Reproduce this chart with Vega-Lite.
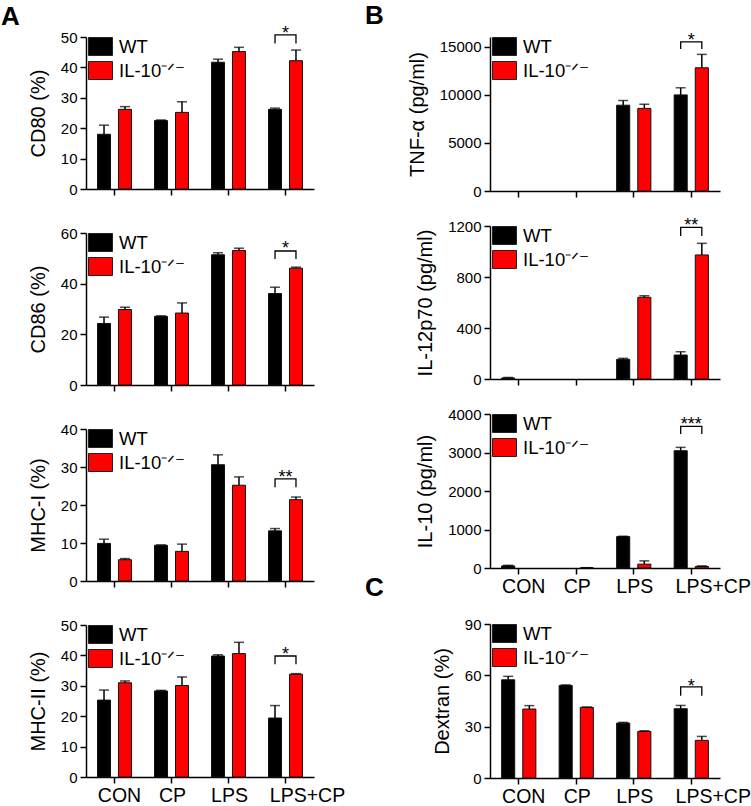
{
  "$schema": "https://vega.github.io/schema/vega-lite/v6.json",
  "padding": {"left": 1, "top": 3, "right": 2, "bottom": 1},
  "background": "white",
  "config": {
    "view": {"stroke": null},
    "font": "Liberation Sans",
    "axis": {"domainColor": "#000", "domainWidth": 1.5, "tickColor": "#000", "tickWidth": 1.5, "tickSize": 6, "labelFont": "Liberation Sans", "labelFontSize": 15, "labelColor": "#000", "labelPadding": 3, "titleFont": "Liberation Sans", "titleFontSize": 20, "titleFontWeight": "normal", "titleColor": "#000", "grid": false},
    "axisX": {"labelFontSize": 19.5, "labelAngle": 0, "title": null, "labelOffset": {"condition": [{"test": "datum.value === 'LPS+CP'", "value": 22}, {"test": "datum.value === 'CON'", "value": 5}], "value": 1}},
    "axisY": {"titlePadding": 12},
    "legend": {"orient": "none", "legendX": 4, "legendY": -1, "title": null, "padding": 0, "symbolType": "M-1.2,-0.9H1.2V0.9H-1.2Z", "symbolSize": 400, "symbolStrokeColor": "#222", "symbolStrokeWidth": 1, "labelFont": "Liberation Sans", "labelFontSize": 18.5, "labelColor": "#000", "labelOffset": 8, "rowPadding": 1},
    "title": {"font": "Liberation Sans", "fontSize": 26, "fontWeight": "bold", "color": "#000", "anchor": "start", "frame": "group", "offset": 0}
  },
  "datasets": {
    "bars": [
      {"p": "CD80", "c": "CON", "g": "WT", "m": 18.0, "h": 21.0},
      {"p": "CD80", "c": "CON", "g": "IL-10⁻ᐟ⁻", "m": 26.2, "h": 27.1},
      {"p": "CD80", "c": "CP", "g": "WT", "m": 22.5, "h": 22.7},
      {"p": "CD80", "c": "CP", "g": "IL-10⁻ᐟ⁻", "m": 25.2, "h": 28.7},
      {"p": "CD80", "c": "LPS", "g": "WT", "m": 41.7, "h": 42.7},
      {"p": "CD80", "c": "LPS", "g": "IL-10⁻ᐟ⁻", "m": 45.2, "h": 46.6},
      {"p": "CD80", "c": "LPS+CP", "g": "WT", "m": 26.2, "h": 26.6},
      {"p": "CD80", "c": "LPS+CP", "g": "IL-10⁻ᐟ⁻", "m": 42.2, "h": 45.7},
      {"p": "CD86", "c": "CON", "g": "WT", "m": 24.3, "h": 26.8},
      {"p": "CD86", "c": "CON", "g": "IL-10⁻ᐟ⁻", "m": 29.8, "h": 30.7},
      {"p": "CD86", "c": "CP", "g": "WT", "m": 27.1, "h": 27.3},
      {"p": "CD86", "c": "CP", "g": "IL-10⁻ᐟ⁻", "m": 28.4, "h": 32.4},
      {"p": "CD86", "c": "LPS", "g": "WT", "m": 51.4, "h": 52.2},
      {"p": "CD86", "c": "LPS", "g": "IL-10⁻ᐟ⁻", "m": 53.1, "h": 54.0},
      {"p": "CD86", "c": "LPS+CP", "g": "WT", "m": 36.1, "h": 38.6},
      {"p": "CD86", "c": "LPS+CP", "g": "IL-10⁻ᐟ⁻", "m": 46.1, "h": 46.5},
      {"p": "MHCI", "c": "CON", "g": "WT", "m": 9.9, "h": 11.0},
      {"p": "MHCI", "c": "CON", "g": "IL-10⁻ᐟ⁻", "m": 5.6, "h": 5.9},
      {"p": "MHCI", "c": "CP", "g": "WT", "m": 9.4, "h": 9.5},
      {"p": "MHCI", "c": "CP", "g": "IL-10⁻ᐟ⁻", "m": 7.8, "h": 9.7},
      {"p": "MHCI", "c": "LPS", "g": "WT", "m": 30.6, "h": 33.2},
      {"p": "MHCI", "c": "LPS", "g": "IL-10⁻ᐟ⁻", "m": 25.2, "h": 27.4},
      {"p": "MHCI", "c": "LPS+CP", "g": "WT", "m": 13.2, "h": 13.8},
      {"p": "MHCI", "c": "LPS+CP", "g": "IL-10⁻ᐟ⁻", "m": 21.4, "h": 22.1},
      {"p": "MHCII", "c": "CON", "g": "WT", "m": 25.3, "h": 28.6},
      {"p": "MHCII", "c": "CON", "g": "IL-10⁻ᐟ⁻", "m": 31.0, "h": 31.6},
      {"p": "MHCII", "c": "CP", "g": "WT", "m": 28.3, "h": 28.5},
      {"p": "MHCII", "c": "CP", "g": "IL-10⁻ᐟ⁻", "m": 30.1, "h": 32.9},
      {"p": "MHCII", "c": "LPS", "g": "WT", "m": 39.8, "h": 40.2},
      {"p": "MHCII", "c": "LPS", "g": "IL-10⁻ᐟ⁻", "m": 40.6, "h": 44.3},
      {"p": "MHCII", "c": "LPS+CP", "g": "WT", "m": 19.4, "h": 23.5},
      {"p": "MHCII", "c": "LPS+CP", "g": "IL-10⁻ᐟ⁻", "m": 33.8, "h": 34.0},
      {"p": "TNF", "c": "LPS", "g": "WT", "m": 8914, "h": 9400},
      {"p": "TNF", "c": "LPS", "g": "IL-10⁻ᐟ⁻", "m": 8584, "h": 9012},
      {"p": "TNF", "c": "LPS+CP", "g": "WT", "m": 9984, "h": 10723},
      {"p": "TNF", "c": "LPS+CP", "g": "IL-10⁻ᐟ⁻", "m": 12803, "h": 14193},
      {"p": "IL12", "c": "CON", "g": "WT", "m": 8, "h": 12},
      {"p": "IL12", "c": "LPS", "g": "WT", "m": 154, "h": 162},
      {"p": "IL12", "c": "LPS", "g": "IL-10⁻ᐟ⁻", "m": 641, "h": 653},
      {"p": "IL12", "c": "LPS+CP", "g": "WT", "m": 188, "h": 214},
      {"p": "IL12", "c": "LPS+CP", "g": "IL-10⁻ᐟ⁻", "m": 973, "h": 1064},
      {"p": "IL10", "c": "CON", "g": "WT", "m": 55, "h": 70},
      {"p": "IL10", "c": "CP", "g": "IL-10⁻ᐟ⁻", "m": 5, "h": 8},
      {"p": "IL10", "c": "LPS", "g": "WT", "m": 815, "h": 825},
      {"p": "IL10", "c": "LPS", "g": "IL-10⁻ᐟ⁻", "m": 100, "h": 185},
      {"p": "IL10", "c": "LPS+CP", "g": "WT", "m": 3047, "h": 3133},
      {"p": "IL10", "c": "LPS+CP", "g": "IL-10⁻ᐟ⁻", "m": 40, "h": 55},
      {"p": "DEX", "c": "CON", "g": "WT", "m": 57.4, "h": 59.4},
      {"p": "DEX", "c": "CON", "g": "IL-10⁻ᐟ⁻", "m": 40.3, "h": 42.3},
      {"p": "DEX", "c": "CP", "g": "WT", "m": 54.1, "h": 54.4},
      {"p": "DEX", "c": "CP", "g": "IL-10⁻ᐟ⁻", "m": 41.3, "h": 41.5},
      {"p": "DEX", "c": "LPS", "g": "WT", "m": 32.1, "h": 32.5},
      {"p": "DEX", "c": "LPS", "g": "IL-10⁻ᐟ⁻", "m": 27.2, "h": 27.6},
      {"p": "DEX", "c": "LPS+CP", "g": "WT", "m": 40.5, "h": 42.4},
      {"p": "DEX", "c": "LPS+CP", "g": "IL-10⁻ᐟ⁻", "m": 22.0, "h": 24.3}
    ],
    "brackets": [
      {"p": "CD80", "c": "LPS+CP", "g": "WT", "y": 47.9, "o": 1},
      {"p": "CD80", "c": "LPS+CP", "g": "WT", "y": 50.7, "o": 2},
      {"p": "CD80", "c": "LPS+CP", "g": "IL-10⁻ᐟ⁻", "y": 50.7, "o": 3},
      {"p": "CD80", "c": "LPS+CP", "g": "IL-10⁻ᐟ⁻", "y": 47.9, "o": 4},
      {"p": "CD86", "c": "LPS+CP", "g": "WT", "y": 49.7, "o": 1},
      {"p": "CD86", "c": "LPS+CP", "g": "WT", "y": 52.9, "o": 2},
      {"p": "CD86", "c": "LPS+CP", "g": "IL-10⁻ᐟ⁻", "y": 52.9, "o": 3},
      {"p": "CD86", "c": "LPS+CP", "g": "IL-10⁻ᐟ⁻", "y": 49.7, "o": 4},
      {"p": "MHCI", "c": "LPS+CP", "g": "WT", "y": 24.7, "o": 1},
      {"p": "MHCI", "c": "LPS+CP", "g": "WT", "y": 26.9, "o": 2},
      {"p": "MHCI", "c": "LPS+CP", "g": "IL-10⁻ᐟ⁻", "y": 26.9, "o": 3},
      {"p": "MHCI", "c": "LPS+CP", "g": "IL-10⁻ᐟ⁻", "y": 24.7, "o": 4},
      {"p": "MHCII", "c": "LPS+CP", "g": "WT", "y": 37.1, "o": 1},
      {"p": "MHCII", "c": "LPS+CP", "g": "WT", "y": 39.8, "o": 2},
      {"p": "MHCII", "c": "LPS+CP", "g": "IL-10⁻ᐟ⁻", "y": 39.8, "o": 3},
      {"p": "MHCII", "c": "LPS+CP", "g": "IL-10⁻ᐟ⁻", "y": 37.1, "o": 4},
      {"p": "TNF", "c": "LPS+CP", "g": "WT", "y": 14747, "o": 1},
      {"p": "TNF", "c": "LPS+CP", "g": "WT", "y": 15486, "o": 2},
      {"p": "TNF", "c": "LPS+CP", "g": "IL-10⁻ᐟ⁻", "y": 15486, "o": 3},
      {"p": "TNF", "c": "LPS+CP", "g": "IL-10⁻ᐟ⁻", "y": 14747, "o": 4},
      {"p": "IL12", "c": "LPS+CP", "g": "WT", "y": 1122, "o": 1},
      {"p": "IL12", "c": "LPS+CP", "g": "WT", "y": 1190, "o": 2},
      {"p": "IL12", "c": "LPS+CP", "g": "IL-10⁻ᐟ⁻", "y": 1190, "o": 3},
      {"p": "IL12", "c": "LPS+CP", "g": "IL-10⁻ᐟ⁻", "y": 1122, "o": 4},
      {"p": "IL10", "c": "LPS+CP", "g": "WT", "y": 3480, "o": 1},
      {"p": "IL10", "c": "LPS+CP", "g": "WT", "y": 3678, "o": 2},
      {"p": "IL10", "c": "LPS+CP", "g": "IL-10⁻ᐟ⁻", "y": 3678, "o": 3},
      {"p": "IL10", "c": "LPS+CP", "g": "IL-10⁻ᐟ⁻", "y": 3480, "o": 4},
      {"p": "DEX", "c": "LPS+CP", "g": "WT", "y": 48.1, "o": 1},
      {"p": "DEX", "c": "LPS+CP", "g": "WT", "y": 53.2, "o": 2},
      {"p": "DEX", "c": "LPS+CP", "g": "IL-10⁻ᐟ⁻", "y": 53.2, "o": 3},
      {"p": "DEX", "c": "LPS+CP", "g": "IL-10⁻ᐟ⁻", "y": 48.1, "o": 4}
    ],
    "stars": [
      {"p": "CD80", "c": "LPS+CP", "t": "*", "y": 52.6},
      {"p": "CD86", "c": "LPS+CP", "t": "*", "y": 55.7},
      {"p": "MHCI", "c": "LPS+CP", "t": "**", "y": 28.4},
      {"p": "MHCII", "c": "LPS+CP", "t": "*", "y": 41.7},
      {"p": "TNF", "c": "LPS+CP", "t": "*", "y": 16090},
      {"p": "IL12", "c": "LPS+CP", "t": "**", "y": 1241},
      {"p": "IL10", "c": "LPS+CP", "t": "***", "y": 3850},
      {"p": "DEX", "c": "LPS+CP", "t": "*", "y": 56.3}
    ]
  },
  "hconcat": [
    {
      "vconcat": [
        {
          "width": 228, "height": 152,
          "title": {"text": "A", "dx": -85, "dy": 9},
          "layer": [
            {"data": {"name": "bars"}, "transform": [{"filter": "datum.p === 'CD80'"}], "mark": {"type": "bar", "stroke": "#111", "strokeWidth": 1},
             "encoding": {
               "x": {"field": "c", "type": "nominal", "scale": {"domain": ["CON", "CP", "LPS", "LPS+CP"], "paddingInner": 0, "paddingOuter": 0}, "axis": {"labels": false}},
               "xOffset": {"field": "g", "type": "nominal", "scale": {"domain": ["WT", "IL-10⁻ᐟ⁻"], "paddingInner": 0.38, "paddingOuter": 0.55}},
               "y": {"field": "m", "type": "quantitative", "scale": {"domain": [0, 50]}, "axis": {"values": [0, 10, 20, 30, 40, 50], "tickCount": 6, "title": "CD80 (%)"}},
               "color": {"field": "g", "type": "nominal", "scale": {"domain": ["WT", "IL-10⁻ᐟ⁻"], "range": ["#000000", "#ff0000"]}}}},
            {"data": {"name": "bars"}, "transform": [{"filter": "datum.p === 'CD80'"}], "mark": {"type": "rule", "color": "#000", "strokeWidth": 1.5},
             "encoding": {"x": {"field": "c", "type": "nominal"}, "xOffset": {"field": "g", "type": "nominal"}, "y": {"field": "m", "type": "quantitative"}, "y2": {"field": "h"}}},
            {"data": {"name": "bars"}, "transform": [{"filter": "datum.p === 'CD80'"}], "mark": {"type": "tick", "color": "#000", "thickness": 1.5, "size": 10, "orient": "horizontal"},
             "encoding": {"x": {"field": "c", "type": "nominal"}, "xOffset": {"field": "g", "type": "nominal"}, "y": {"field": "h", "type": "quantitative"}}},
            {"data": {"name": "brackets"}, "transform": [{"filter": "datum.p === 'CD80'"}], "mark": {"type": "line", "color": "#000", "strokeWidth": 1.3},
             "encoding": {"x": {"field": "c", "type": "nominal"}, "xOffset": {"field": "g", "type": "nominal"}, "y": {"field": "y", "type": "quantitative"}, "order": {"field": "o"}}},
            {"data": {"name": "stars"}, "transform": [{"filter": "datum.p === 'CD80'"}], "mark": {"type": "text", "fontSize": 18, "dy": 10, "baseline": "alphabetic", "color": "#000"},
             "encoding": {"x": {"field": "c", "type": "nominal"}, "y": {"field": "y", "type": "quantitative"}, "text": {"field": "t"}}}
          ]
        },
        {
          "width": 228, "height": 152,
          "layer": [
            {"data": {"name": "bars"}, "transform": [{"filter": "datum.p === 'CD86'"}], "mark": {"type": "bar", "stroke": "#111", "strokeWidth": 1},
             "encoding": {
               "x": {"field": "c", "type": "nominal", "scale": {"domain": ["CON", "CP", "LPS", "LPS+CP"], "paddingInner": 0, "paddingOuter": 0}, "axis": {"labels": false}},
               "xOffset": {"field": "g", "type": "nominal", "scale": {"domain": ["WT", "IL-10⁻ᐟ⁻"], "paddingInner": 0.38, "paddingOuter": 0.55}},
               "y": {"field": "m", "type": "quantitative", "scale": {"domain": [0, 60]}, "axis": {"values": [0, 20, 40, 60], "tickCount": 4, "title": "CD86 (%)"}},
               "color": {"field": "g", "type": "nominal", "scale": {"domain": ["WT", "IL-10⁻ᐟ⁻"], "range": ["#000000", "#ff0000"]}}}},
            {"data": {"name": "bars"}, "transform": [{"filter": "datum.p === 'CD86'"}], "mark": {"type": "rule", "color": "#000", "strokeWidth": 1.5},
             "encoding": {"x": {"field": "c", "type": "nominal"}, "xOffset": {"field": "g", "type": "nominal"}, "y": {"field": "m", "type": "quantitative"}, "y2": {"field": "h"}}},
            {"data": {"name": "bars"}, "transform": [{"filter": "datum.p === 'CD86'"}], "mark": {"type": "tick", "color": "#000", "thickness": 1.5, "size": 10, "orient": "horizontal"},
             "encoding": {"x": {"field": "c", "type": "nominal"}, "xOffset": {"field": "g", "type": "nominal"}, "y": {"field": "h", "type": "quantitative"}}},
            {"data": {"name": "brackets"}, "transform": [{"filter": "datum.p === 'CD86'"}], "mark": {"type": "line", "color": "#000", "strokeWidth": 1.3},
             "encoding": {"x": {"field": "c", "type": "nominal"}, "xOffset": {"field": "g", "type": "nominal"}, "y": {"field": "y", "type": "quantitative"}, "order": {"field": "o"}}},
            {"data": {"name": "stars"}, "transform": [{"filter": "datum.p === 'CD86'"}], "mark": {"type": "text", "fontSize": 18, "dy": 10, "baseline": "alphabetic", "color": "#000"},
             "encoding": {"x": {"field": "c", "type": "nominal"}, "y": {"field": "y", "type": "quantitative"}, "text": {"field": "t"}}}
          ]
        },
        {
          "width": 228, "height": 152,
          "layer": [
            {"data": {"name": "bars"}, "transform": [{"filter": "datum.p === 'MHCI'"}], "mark": {"type": "bar", "stroke": "#111", "strokeWidth": 1},
             "encoding": {
               "x": {"field": "c", "type": "nominal", "scale": {"domain": ["CON", "CP", "LPS", "LPS+CP"], "paddingInner": 0, "paddingOuter": 0}, "axis": {"labels": false}},
               "xOffset": {"field": "g", "type": "nominal", "scale": {"domain": ["WT", "IL-10⁻ᐟ⁻"], "paddingInner": 0.38, "paddingOuter": 0.55}},
               "y": {"field": "m", "type": "quantitative", "scale": {"domain": [0, 40]}, "axis": {"values": [0, 10, 20, 30, 40], "tickCount": 5, "title": "MHC-I (%)"}},
               "color": {"field": "g", "type": "nominal", "scale": {"domain": ["WT", "IL-10⁻ᐟ⁻"], "range": ["#000000", "#ff0000"]}}}},
            {"data": {"name": "bars"}, "transform": [{"filter": "datum.p === 'MHCI'"}], "mark": {"type": "rule", "color": "#000", "strokeWidth": 1.5},
             "encoding": {"x": {"field": "c", "type": "nominal"}, "xOffset": {"field": "g", "type": "nominal"}, "y": {"field": "m", "type": "quantitative"}, "y2": {"field": "h"}}},
            {"data": {"name": "bars"}, "transform": [{"filter": "datum.p === 'MHCI'"}], "mark": {"type": "tick", "color": "#000", "thickness": 1.5, "size": 10, "orient": "horizontal"},
             "encoding": {"x": {"field": "c", "type": "nominal"}, "xOffset": {"field": "g", "type": "nominal"}, "y": {"field": "h", "type": "quantitative"}}},
            {"data": {"name": "brackets"}, "transform": [{"filter": "datum.p === 'MHCI'"}], "mark": {"type": "line", "color": "#000", "strokeWidth": 1.3},
             "encoding": {"x": {"field": "c", "type": "nominal"}, "xOffset": {"field": "g", "type": "nominal"}, "y": {"field": "y", "type": "quantitative"}, "order": {"field": "o"}}},
            {"data": {"name": "stars"}, "transform": [{"filter": "datum.p === 'MHCI'"}], "mark": {"type": "text", "fontSize": 18, "dy": 10, "baseline": "alphabetic", "color": "#000"},
             "encoding": {"x": {"field": "c", "type": "nominal"}, "y": {"field": "y", "type": "quantitative"}, "text": {"field": "t"}}}
          ]
        },
        {
          "width": 228, "height": 152,
          "layer": [
            {"data": {"name": "bars"}, "transform": [{"filter": "datum.p === 'MHCII'"}], "mark": {"type": "bar", "stroke": "#111", "strokeWidth": 1},
             "encoding": {
               "x": {"field": "c", "type": "nominal", "scale": {"domain": ["CON", "CP", "LPS", "LPS+CP"], "paddingInner": 0, "paddingOuter": 0}, "axis": {"labels": true}},
               "xOffset": {"field": "g", "type": "nominal", "scale": {"domain": ["WT", "IL-10⁻ᐟ⁻"], "paddingInner": 0.38, "paddingOuter": 0.55}},
               "y": {"field": "m", "type": "quantitative", "scale": {"domain": [0, 50]}, "axis": {"values": [0, 10, 20, 30, 40, 50], "tickCount": 6, "title": "MHC-II (%)"}},
               "color": {"field": "g", "type": "nominal", "scale": {"domain": ["WT", "IL-10⁻ᐟ⁻"], "range": ["#000000", "#ff0000"]}}}},
            {"data": {"name": "bars"}, "transform": [{"filter": "datum.p === 'MHCII'"}], "mark": {"type": "rule", "color": "#000", "strokeWidth": 1.5},
             "encoding": {"x": {"field": "c", "type": "nominal"}, "xOffset": {"field": "g", "type": "nominal"}, "y": {"field": "m", "type": "quantitative"}, "y2": {"field": "h"}}},
            {"data": {"name": "bars"}, "transform": [{"filter": "datum.p === 'MHCII'"}], "mark": {"type": "tick", "color": "#000", "thickness": 1.5, "size": 10, "orient": "horizontal"},
             "encoding": {"x": {"field": "c", "type": "nominal"}, "xOffset": {"field": "g", "type": "nominal"}, "y": {"field": "h", "type": "quantitative"}}},
            {"data": {"name": "brackets"}, "transform": [{"filter": "datum.p === 'MHCII'"}], "mark": {"type": "line", "color": "#000", "strokeWidth": 1.3},
             "encoding": {"x": {"field": "c", "type": "nominal"}, "xOffset": {"field": "g", "type": "nominal"}, "y": {"field": "y", "type": "quantitative"}, "order": {"field": "o"}}},
            {"data": {"name": "stars"}, "transform": [{"filter": "datum.p === 'MHCII'"}], "mark": {"type": "text", "fontSize": 18, "dy": 10, "baseline": "alphabetic", "color": "#000"},
             "encoding": {"x": {"field": "c", "type": "nominal"}, "y": {"field": "y", "type": "quantitative"}, "text": {"field": "t"}}}
          ]
        }
      ],
      "spacing": 44,
      "bounds": "flush",
      "resolve": {"scale": {"y": "independent", "color": "shared"}, "legend": {"color": "independent"}}
    },
    {
      "vconcat": [
        {
          "width": 230, "height": 154,
          "title": {"text": "B", "dx": -125, "dy": 1},
          "layer": [
            {"data": {"name": "bars"}, "transform": [{"filter": "datum.p === 'TNF'"}], "mark": {"type": "bar", "stroke": "#111", "strokeWidth": 1},
             "encoding": {
               "x": {"field": "c", "type": "nominal", "scale": {"domain": ["CON", "CP", "LPS", "LPS+CP"], "paddingInner": 0, "paddingOuter": 0}, "axis": {"labels": false}},
               "xOffset": {"field": "g", "type": "nominal", "scale": {"domain": ["WT", "IL-10⁻ᐟ⁻"], "paddingInner": 0.38, "paddingOuter": 0.55}},
               "y": {"field": "m", "type": "quantitative", "scale": {"domain": [0, 15000]}, "axis": {"values": [0, 5000, 10000, 15000], "tickCount": 4, "format": "d", "title": "TNF-α (pg/ml)"}},
               "color": {"field": "g", "type": "nominal", "scale": {"domain": ["WT", "IL-10⁻ᐟ⁻"], "range": ["#000000", "#ff0000"]}}}},
            {"data": {"name": "bars"}, "transform": [{"filter": "datum.p === 'TNF'"}], "mark": {"type": "rule", "color": "#000", "strokeWidth": 1.5},
             "encoding": {"x": {"field": "c", "type": "nominal"}, "xOffset": {"field": "g", "type": "nominal"}, "y": {"field": "m", "type": "quantitative"}, "y2": {"field": "h"}}},
            {"data": {"name": "bars"}, "transform": [{"filter": "datum.p === 'TNF'"}], "mark": {"type": "tick", "color": "#000", "thickness": 1.5, "size": 10, "orient": "horizontal"},
             "encoding": {"x": {"field": "c", "type": "nominal"}, "xOffset": {"field": "g", "type": "nominal"}, "y": {"field": "h", "type": "quantitative"}}},
            {"data": {"name": "brackets"}, "transform": [{"filter": "datum.p === 'TNF'"}], "mark": {"type": "line", "color": "#000", "strokeWidth": 1.3},
             "encoding": {"x": {"field": "c", "type": "nominal"}, "xOffset": {"field": "g", "type": "nominal"}, "y": {"field": "y", "type": "quantitative"}, "order": {"field": "o"}}},
            {"data": {"name": "stars"}, "transform": [{"filter": "datum.p === 'TNF'"}], "mark": {"type": "text", "fontSize": 18, "dy": 10, "baseline": "alphabetic", "color": "#000"},
             "encoding": {"x": {"field": "c", "type": "nominal"}, "y": {"field": "y", "type": "quantitative"}, "text": {"field": "t"}}}
          ]
        },
        {"width": 230, "height": 21, "data": {"values": []}, "mark": "point"},
        {
          "width": 230, "height": 153,
          "layer": [
            {"data": {"name": "bars"}, "transform": [{"filter": "datum.p === 'IL12'"}], "mark": {"type": "bar", "stroke": "#111", "strokeWidth": 1},
             "encoding": {
               "x": {"field": "c", "type": "nominal", "scale": {"domain": ["CON", "CP", "LPS", "LPS+CP"], "paddingInner": 0, "paddingOuter": 0}, "axis": {"labels": false}},
               "xOffset": {"field": "g", "type": "nominal", "scale": {"domain": ["WT", "IL-10⁻ᐟ⁻"], "paddingInner": 0.38, "paddingOuter": 0.55}},
               "y": {"field": "m", "type": "quantitative", "scale": {"domain": [0, 1200]}, "axis": {"values": [0, 400, 800, 1200], "tickCount": 4, "format": "d", "title": "IL-12p70 (pg/ml)"}},
               "color": {"field": "g", "type": "nominal", "scale": {"domain": ["WT", "IL-10⁻ᐟ⁻"], "range": ["#000000", "#ff0000"]}}}},
            {"data": {"name": "bars"}, "transform": [{"filter": "datum.p === 'IL12'"}], "mark": {"type": "rule", "color": "#000", "strokeWidth": 1.5},
             "encoding": {"x": {"field": "c", "type": "nominal"}, "xOffset": {"field": "g", "type": "nominal"}, "y": {"field": "m", "type": "quantitative"}, "y2": {"field": "h"}}},
            {"data": {"name": "bars"}, "transform": [{"filter": "datum.p === 'IL12'"}], "mark": {"type": "tick", "color": "#000", "thickness": 1.5, "size": 10, "orient": "horizontal"},
             "encoding": {"x": {"field": "c", "type": "nominal"}, "xOffset": {"field": "g", "type": "nominal"}, "y": {"field": "h", "type": "quantitative"}}},
            {"data": {"name": "brackets"}, "transform": [{"filter": "datum.p === 'IL12'"}], "mark": {"type": "line", "color": "#000", "strokeWidth": 1.3},
             "encoding": {"x": {"field": "c", "type": "nominal"}, "xOffset": {"field": "g", "type": "nominal"}, "y": {"field": "y", "type": "quantitative"}, "order": {"field": "o"}}},
            {"data": {"name": "stars"}, "transform": [{"filter": "datum.p === 'IL12'"}], "mark": {"type": "text", "fontSize": 18, "dy": 10, "baseline": "alphabetic", "color": "#000"},
             "encoding": {"x": {"field": "c", "type": "nominal"}, "y": {"field": "y", "type": "quantitative"}, "text": {"field": "t"}}}
          ]
        },
        {"width": 230, "height": 21, "data": {"values": []}, "mark": "point"},
        {
          "width": 230, "height": 154,
          "layer": [
            {"data": {"name": "bars"}, "transform": [{"filter": "datum.p === 'IL10'"}], "mark": {"type": "bar", "stroke": "#111", "strokeWidth": 1},
             "encoding": {
               "x": {"field": "c", "type": "nominal", "scale": {"domain": ["CON", "CP", "LPS", "LPS+CP"], "paddingInner": 0, "paddingOuter": 0}, "axis": {"labels": true}},
               "xOffset": {"field": "g", "type": "nominal", "scale": {"domain": ["WT", "IL-10⁻ᐟ⁻"], "paddingInner": 0.38, "paddingOuter": 0.55}},
               "y": {"field": "m", "type": "quantitative", "scale": {"domain": [0, 4000]}, "axis": {"values": [0, 1000, 2000, 3000, 4000], "tickCount": 5, "format": "d", "title": "IL-10 (pg/ml)"}},
               "color": {"field": "g", "type": "nominal", "scale": {"domain": ["WT", "IL-10⁻ᐟ⁻"], "range": ["#000000", "#ff0000"]}}}},
            {"data": {"name": "bars"}, "transform": [{"filter": "datum.p === 'IL10'"}], "mark": {"type": "rule", "color": "#000", "strokeWidth": 1.5},
             "encoding": {"x": {"field": "c", "type": "nominal"}, "xOffset": {"field": "g", "type": "nominal"}, "y": {"field": "m", "type": "quantitative"}, "y2": {"field": "h"}}},
            {"data": {"name": "bars"}, "transform": [{"filter": "datum.p === 'IL10'"}], "mark": {"type": "tick", "color": "#000", "thickness": 1.5, "size": 10, "orient": "horizontal"},
             "encoding": {"x": {"field": "c", "type": "nominal"}, "xOffset": {"field": "g", "type": "nominal"}, "y": {"field": "h", "type": "quantitative"}}},
            {"data": {"name": "brackets"}, "transform": [{"filter": "datum.p === 'IL10'"}], "mark": {"type": "line", "color": "#000", "strokeWidth": 1.3},
             "encoding": {"x": {"field": "c", "type": "nominal"}, "xOffset": {"field": "g", "type": "nominal"}, "y": {"field": "y", "type": "quantitative"}, "order": {"field": "o"}}},
            {"data": {"name": "stars"}, "transform": [{"filter": "datum.p === 'IL10'"}], "mark": {"type": "text", "fontSize": 18, "dy": 10, "baseline": "alphabetic", "color": "#000"},
             "encoding": {"x": {"field": "c", "type": "nominal"}, "y": {"field": "y", "type": "quantitative"}, "text": {"field": "t"}}}
          ]
        },
        {"width": 230, "height": 42, "data": {"values": []}, "mark": "point"},
        {
          "width": 230, "height": 154,
          "title": {"text": "C", "dx": -125, "dy": -12},
          "layer": [
            {"data": {"name": "bars"}, "transform": [{"filter": "datum.p === 'DEX'"}], "mark": {"type": "bar", "stroke": "#111", "strokeWidth": 1},
             "encoding": {
               "x": {"field": "c", "type": "nominal", "scale": {"domain": ["CON", "CP", "LPS", "LPS+CP"], "paddingInner": 0, "paddingOuter": 0}, "axis": {"labels": true}},
               "xOffset": {"field": "g", "type": "nominal", "scale": {"domain": ["WT", "IL-10⁻ᐟ⁻"], "paddingInner": 0.38, "paddingOuter": 0.55}},
               "y": {"field": "m", "type": "quantitative", "scale": {"domain": [0, 90]}, "axis": {"values": [0, 30, 60, 90], "tickCount": 4, "title": "Dextran (%)"}},
               "color": {"field": "g", "type": "nominal", "scale": {"domain": ["WT", "IL-10⁻ᐟ⁻"], "range": ["#000000", "#ff0000"]}}}},
            {"data": {"name": "bars"}, "transform": [{"filter": "datum.p === 'DEX'"}], "mark": {"type": "rule", "color": "#000", "strokeWidth": 1.5},
             "encoding": {"x": {"field": "c", "type": "nominal"}, "xOffset": {"field": "g", "type": "nominal"}, "y": {"field": "m", "type": "quantitative"}, "y2": {"field": "h"}}},
            {"data": {"name": "bars"}, "transform": [{"filter": "datum.p === 'DEX'"}], "mark": {"type": "tick", "color": "#000", "thickness": 1.5, "size": 10, "orient": "horizontal"},
             "encoding": {"x": {"field": "c", "type": "nominal"}, "xOffset": {"field": "g", "type": "nominal"}, "y": {"field": "h", "type": "quantitative"}}},
            {"data": {"name": "brackets"}, "transform": [{"filter": "datum.p === 'DEX'"}], "mark": {"type": "line", "color": "#000", "strokeWidth": 1.3},
             "encoding": {"x": {"field": "c", "type": "nominal"}, "xOffset": {"field": "g", "type": "nominal"}, "y": {"field": "y", "type": "quantitative"}, "order": {"field": "o"}}},
            {"data": {"name": "stars"}, "transform": [{"filter": "datum.p === 'DEX'"}], "mark": {"type": "text", "fontSize": 18, "dy": 10, "baseline": "alphabetic", "color": "#000"},
             "encoding": {"x": {"field": "c", "type": "nominal"}, "y": {"field": "y", "type": "quantitative"}, "text": {"field": "t"}}}
          ]
        }
      ],
      "spacing": 7,
      "bounds": "flush",
      "resolve": {"scale": {"y": "independent", "color": "shared"}, "legend": {"color": "independent"}}
    }
  ],
  "spacing": 20,
  "resolve": {"scale": {"y": "independent", "color": "shared", "x": "independent", "xOffset": "independent"}, "legend": {"color": "independent"}}
}
